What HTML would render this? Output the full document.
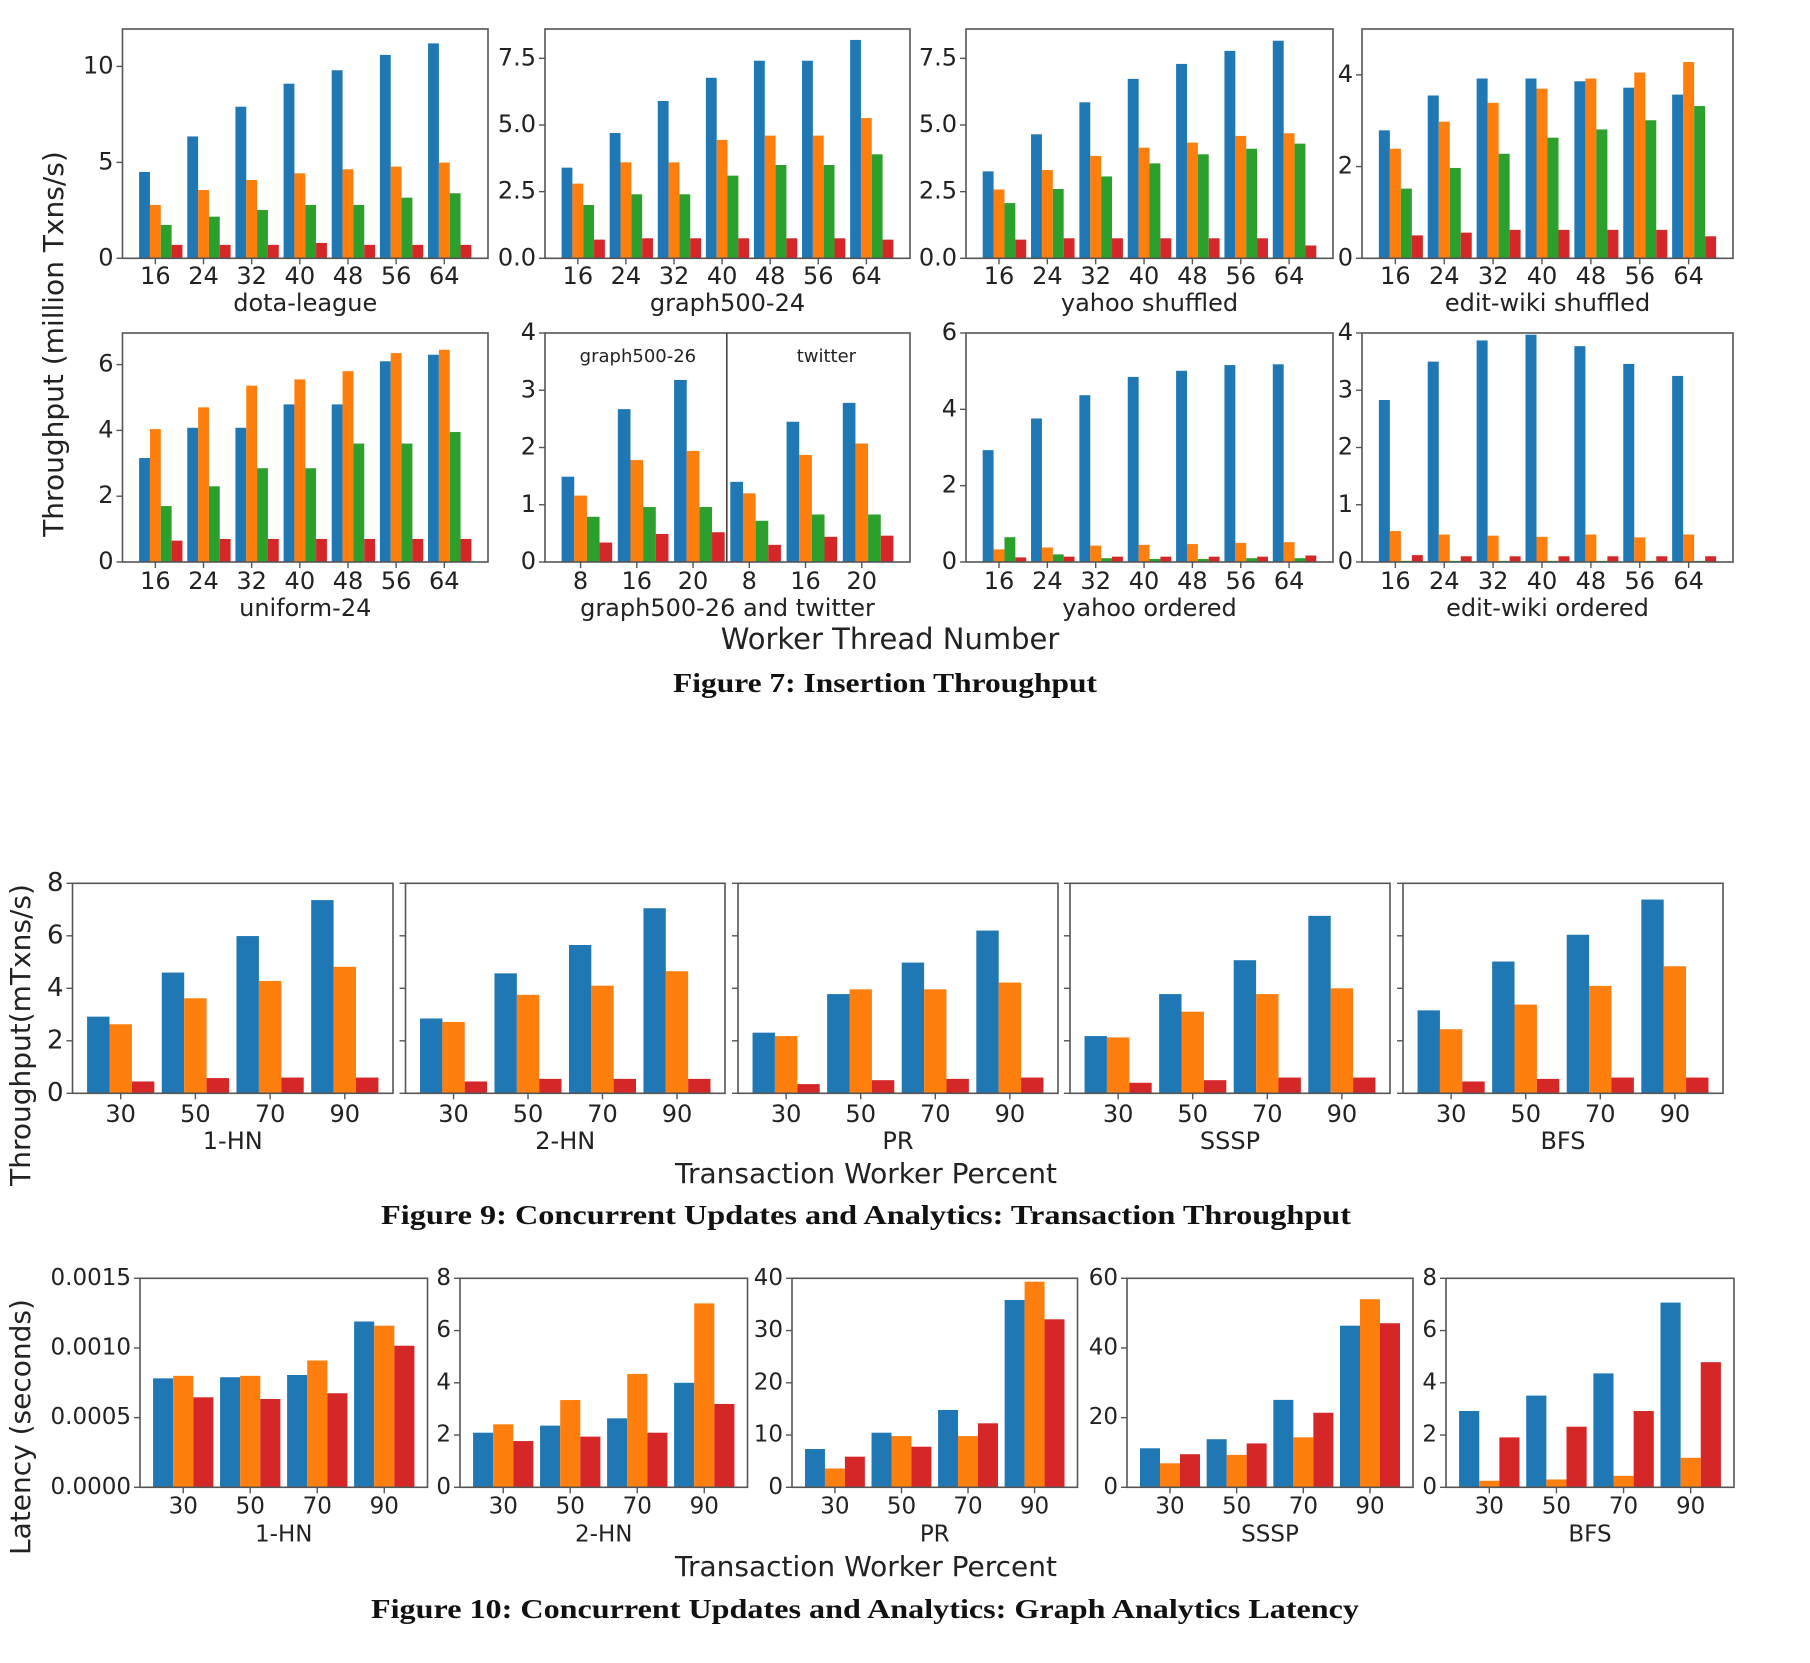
<!DOCTYPE html>
<html><head><meta charset="utf-8"><title>Figures</title>
<style>
html,body{margin:0;padding:0;background:#fff;}
svg{display:block;}
text{font-family:"DejaVu Sans","Liberation Sans",sans-serif;fill:#222;}
.cap{font-family:"Liberation Serif",serif;font-weight:bold;fill:#111;}
</style></head>
<body>
<svg id="chart" xmlns="http://www.w3.org/2000/svg" width="1810" height="1663" viewBox="0 0 1810 1663">
<rect x="0" y="0" width="1810" height="1663" fill="#fff"/>
<text x="55" y="344" font-size="28" text-anchor="middle" dominant-baseline="middle" transform="rotate(-90 55 344)">Throughput (million Txns/s)</text>
<text x="890" y="641" font-size="29" text-anchor="middle" dominant-baseline="middle">Worker Thread Number</text>
<text class="cap" x="885" y="686" font-size="27" text-anchor="middle" dominant-baseline="middle" textLength="424" lengthAdjust="spacingAndGlyphs">Figure 7: Insertion Throughput</text>
<text x="22" y="1035" font-size="28" text-anchor="middle" dominant-baseline="middle" transform="rotate(-90 22 1035)">Throughput(mTxns/s)</text>
<text x="866" y="1175" font-size="28" text-anchor="middle" dominant-baseline="middle">Transaction Worker Percent</text>
<text class="cap" x="866" y="1218" font-size="27" text-anchor="middle" dominant-baseline="middle" textLength="970" lengthAdjust="spacingAndGlyphs">Figure 9: Concurrent Updates and Analytics: Transaction Throughput</text>
<text x="22" y="1427" font-size="28" text-anchor="middle" dominant-baseline="middle" transform="rotate(-90 22 1427)">Latency (seconds)</text>
<text x="866" y="1568" font-size="28" text-anchor="middle" dominant-baseline="middle">Transaction Worker Percent</text>
<text class="cap" x="865" y="1612" font-size="27" text-anchor="middle" dominant-baseline="middle" textLength="988" lengthAdjust="spacingAndGlyphs">Figure 10: Concurrent Updates and Analytics: Graph Analytics Latency</text>
</svg>
<script>
// ---------- data ----------
const threadCats = ['16','24','32','40','48','56','64'];
const g26Cats = ['8','16','20','8','16','20'];
const pctCats = ['30','50','70','90'];

const dotaBlue = [4.5,6.35,7.9,9.1,9.8,10.6,11.2];
const dotaOrange = [2.78,3.56,4.08,4.43,4.64,4.78,4.99];
const dotaGreen = [1.74,2.17,2.52,2.78,2.78,3.16,3.39];
const dotaRed = [0.7,0.7,0.7,0.8,0.7,0.7,0.7];

const g24Blue = [3.4,4.7,5.9,6.77,7.41,7.41,8.19];
const g24Orange = [2.8,3.6,3.6,4.44,4.6,4.6,5.26];
const g24Green = [2.0,2.4,2.4,3.1,3.5,3.5,3.9];
const g24Red = [0.7,0.75,0.75,0.75,0.75,0.75,0.7];

const yshBlue = [3.26,4.65,5.85,6.73,7.29,7.78,8.16];
const yshOrange = [2.58,3.31,3.84,4.15,4.34,4.59,4.69];
const yshGreen = [2.07,2.6,3.07,3.56,3.9,4.11,4.3];
const yshRed = [0.7,0.75,0.75,0.75,0.75,0.75,0.48];

const ewsBlue = [2.79,3.55,3.92,3.92,3.86,3.72,3.57];
const ewsOrange = [2.39,2.98,3.39,3.7,3.92,4.05,4.28];
const ewsGreen = [1.52,1.97,2.28,2.63,2.81,3.01,3.32];
const ewsRed = [0.5,0.56,0.62,0.62,0.62,0.62,0.48];

const uniBlue = [3.16,4.08,4.08,4.79,4.79,6.1,6.3];
const uniOrange = [4.04,4.7,5.36,5.55,5.8,6.35,6.45];
const uniGreen = [1.7,2.3,2.85,2.85,3.6,3.6,3.95];
const uniRed = [0.65,0.7,0.7,0.7,0.7,0.7,0.7];

const g26Blue = [1.49,2.67,3.18,1.4,2.45,2.78];
const g26Orange = [1.16,1.78,1.94,1.2,1.87,2.07];
const g26Green = [0.79,0.96,0.96,0.72,0.83,0.83];
const g26Red = [0.34,0.49,0.52,0.3,0.44,0.46];

const yorBlue = [2.93,3.76,4.37,4.85,5.01,5.16,5.18];
const yorOrange = [0.33,0.38,0.43,0.45,0.47,0.5,0.52];
const yorGreen = [0.65,0.2,0.1,0.08,0.08,0.1,0.1];
const yorRed = [0.12,0.14,0.14,0.14,0.14,0.14,0.17];

const ewoBlue = [2.83,3.5,3.87,3.97,3.77,3.46,3.25];
const ewoOrange = [0.54,0.48,0.46,0.44,0.48,0.43,0.48];
const ewoGreen = [0.02,0.02,0.02,0.02,0.02,0.02,0.02];
const ewoRed = [0.12,0.1,0.1,0.1,0.1,0.1,0.1];

const tp1hnBlue = [2.92,4.6,5.99,7.36];
const tp1hnOrange = [2.63,3.62,4.28,4.82];
const tp1hnRed = [0.45,0.58,0.6,0.6];
const tp2hnBlue = [2.85,4.57,5.65,7.05];
const tp2hnOrange = [2.72,3.75,4.1,4.65];
const tp2hnRed = [0.45,0.55,0.55,0.55];
const tpPrBlue = [2.31,3.78,4.98,6.2];
const tpPrOrange = [2.18,3.96,3.96,4.22];
const tpPrRed = [0.35,0.5,0.55,0.6];
const tpSsspBlue = [2.18,3.78,5.07,6.76];
const tpSsspOrange = [2.13,3.11,3.78,4.0];
const tpSsspRed = [0.4,0.5,0.6,0.6];
const tpBfsBlue = [3.16,5.02,6.04,7.38];
const tpBfsOrange = [2.44,3.38,4.09,4.84];
const tpBfsRed = [0.45,0.55,0.6,0.6];

const lat1hnBlue = [0.000782,0.00079,0.000806,0.00119];
const lat1hnOrange = [0.0008,0.0008,0.00091,0.00116];
const lat1hnRed = [0.000646,0.000634,0.000675,0.001016];
const lat2hnBlue = [2.09,2.36,2.64,4.0];
const lat2hnOrange = [2.41,3.34,4.34,7.04];
const lat2hnRed = [1.77,1.94,2.09,3.19];
const latPrBlue = [7.33,10.45,14.8,35.85];
const latPrOrange = [3.6,9.8,9.8,39.35];
const latPrRed = [5.86,7.77,12.25,32.15];
const latSsspBlue = [11.2,13.8,25.1,46.4];
const latSsspOrange = [6.9,9.3,14.35,54.0];
const latSsspRed = [9.5,12.6,21.4,47.1];
const latBfsBlue = [2.92,3.51,4.36,7.07];
const latBfsOrange = [0.25,0.3,0.44,1.13];
const latBfsRed = [1.91,2.32,2.92,4.79];

const ticks0to10 = [0,5,10];
const ticksHalf = [0,2.5,5,7.5];
const ticksHalfLabels = ['0.0','2.5','5.0','7.5'];
const ticks0to4by2 = [0,2,4];
const ticks0to6by2 = [0,2,4,6];
const ticks0to4 = [0,1,2,3,4];
const ticks0to8 = [0,2,4,6,8];
const ticksLat1 = [0,0.0005,0.001,0.0015];
const ticksLat1Labels = ['0.0000','0.0005','0.0010','0.0015'];
const ticks0to40 = [0,10,20,30,40];
const ticks0to60 = [0,20,40,60];

// ---------- drawing ----------
const svg = document.getElementById('chart');
const NS = 'http://www.w3.org/2000/svg';
const C4 = ['#1f77b4','#ff7f0e','#2ca02c','#d62728'];
const C3 = ['#1f77b4','#ff7f0e','#d62728'];
const SER4 = ['blue','orange','green','red'];
const SER3 = ['blue','orange','red'];

function mk(tag, attrs, parent) {
  const e = document.createElementNS(NS, tag);
  for (const k in attrs) e.setAttribute(k, attrs[k]);
  (parent || svg).appendChild(e);
  return e;
}

function drawPanel(p) {
  const g = mk('g', {});
  
  
  const n = p.cats.length, k = p.series.length, w = p.w;
  const dmin = -1.5 * w, dmax = (n - 1) + (k - 2) * w + 0.5 * w;
  const m = 0.05 * (dmax - dmin);
  const lo = dmin - m, hi = dmax + m;
  const xs = v => p.x0 + (v - lo) / (hi - lo) * (p.x1 - p.x0);
  const ys = v => p.yB - (v / p.ymax) * (p.yB - p.yT);
  const bw = xs(w) - xs(0);
  for (let i = 0; i < k; i++) {
    for (let j = 0; j < n; j++) {
      const v = p.series[i][j];
      const cx = j + (i - 1) * w;
      const r = mk('rect', {x: xs(cx) - bw / 2, y: ys(v), width: bw, height: ys(0) - ys(v), fill: p.colors[i]}, g);
      
      
    }
  }
  const fr = mk('rect', {x: p.x0, y: p.yT, width: p.x1 - p.x0, height: p.yB - p.yT, fill: 'none', stroke: '#555', 'stroke-width': 1.6}, g);
  
  
  for (let j = 0; j < n; j++) {
    mk('line', {x1: xs(j), x2: xs(j), y1: p.yB, y2: p.yB + 6, stroke: '#555', 'stroke-width': 1.4}, g);
    const t = mk('text', {x: xs(j), y: p.tickY, 'font-size': p.fs, 'text-anchor': 'middle', 'dominant-baseline': 'middle', 'font-family': p.ff}, g);
    t.textContent = p.cats[j];
    
    
  }
  for (let i = 0; i < p.yTicks.length; i++) {
    const yv = ys(p.yTicks[i]);
    mk('line', {x1: p.x0 - 6, x2: p.x0, y1: yv, y2: yv, stroke: '#555', 'stroke-width': 1.4}, g);
    if (p.showY) {
      const t = mk('text', {x: p.x0 - 9, y: yv, 'font-size': p.yfs || p.fs, 'text-anchor': 'end', 'dominant-baseline': 'middle', 'font-family': p.ff}, g);
      t.textContent = p.yLabels ? p.yLabels[i] : String(p.yTicks[i]);
      
      
    }
  }
  const xl = mk('text', {x: (p.x0 + p.x1) / 2, y: p.xlabelY, 'font-size': p.fs, 'text-anchor': 'middle', 'dominant-baseline': 'middle', 'font-family': p.ff}, g);
  xl.textContent = p.xlabel;
  
  
  if (p.divider !== undefined) {
    const d = mk('line', {x1: xs(p.divider), x2: xs(p.divider), y1: p.yT, y2: p.yB, stroke: '#444', 'stroke-width': 1.6}, g);
    
    
    const a = mk('text', {x: (p.x0 + xs(p.divider)) / 2 + 2, y: p.yT + 24, 'font-size': 18, 'text-anchor': 'middle', 'dominant-baseline': 'middle'}, g);
    a.textContent = 'graph500-26';
    
    
    const b = mk('text', {x: (p.x1 + xs(p.divider)) / 2 + 8, y: p.yT + 24, 'font-size': 18, 'text-anchor': 'middle', 'dominant-baseline': 'middle'}, g);
    b.textContent = 'twitter';
    
    
  }
}

const FF = '"DejaVu Sans","Liberation Sans",sans-serif';
const FFC = '"DejaVu Sans Condensed","DejaVu Sans","Liberation Sans Narrow",sans-serif';
const r1 = {yT: 29, yB: 258.3, tickY: 277, xlabelY: 304};
const r2 = {yT: 333, yB: 562, tickY: 582, xlabelY: 609};
const f7 = {w: 0.225, colors: C4, serNames: SER4, showY: true, fs: 24, ff: FF};

drawPanel(Object.assign({}, f7, r1, {name: 'dota-league', x0: 122.5, x1: 488, ymax: 11.95, yTicks: ticks0to10, cats: threadCats, series: [dotaBlue, dotaOrange, dotaGreen, dotaRed], xlabel: 'dota-league'}));
drawPanel(Object.assign({}, f7, r1, {name: 'graph500-24', x0: 545, x1: 910, ymax: 8.6, yTicks: ticksHalf, yLabels: ticksHalfLabels, cats: threadCats, series: [g24Blue, g24Orange, g24Green, g24Red], xlabel: 'graph500-24'}));
drawPanel(Object.assign({}, f7, r1, {name: 'yahoo-shuffled', x0: 966, x1: 1333, ymax: 8.6, yTicks: ticksHalf, yLabels: ticksHalfLabels, cats: threadCats, series: [yshBlue, yshOrange, yshGreen, yshRed], xlabel: 'yahoo shuffled'}));
drawPanel(Object.assign({}, f7, r1, {name: 'edit-wiki-shuffled', x0: 1362, x1: 1733, ymax: 5.0, yTicks: ticks0to4by2, cats: threadCats, series: [ewsBlue, ewsOrange, ewsGreen, ewsRed], xlabel: 'edit-wiki shuffled'}));
drawPanel(Object.assign({}, f7, r2, {name: 'uniform-24', x0: 122.5, x1: 488, ymax: 6.96, yTicks: ticks0to6by2, cats: threadCats, series: [uniBlue, uniOrange, uniGreen, uniRed], xlabel: 'uniform-24'}));
drawPanel(Object.assign({}, f7, r2, {name: 'graph500-26-twitter', x0: 545, x1: 910, ymax: 4, yTicks: ticks0to4, cats: g26Cats, series: [g26Blue, g26Orange, g26Green, g26Red], xlabel: 'graph500-26 and twitter', divider: 2.6}));
drawPanel(Object.assign({}, f7, r2, {name: 'yahoo-ordered', x0: 966, x1: 1333, ymax: 6, yTicks: ticks0to6by2, cats: threadCats, series: [yorBlue, yorOrange, yorGreen, yorRed], xlabel: 'yahoo ordered'}));
drawPanel(Object.assign({}, f7, r2, {name: 'edit-wiki-ordered', x0: 1362, x1: 1733, ymax: 4, yTicks: ticks0to4, cats: threadCats, series: [ewoBlue, ewoOrange, ewoGreen, ewoRed], xlabel: 'edit-wiki ordered'}));

const r9 = {yT: 883.3, yB: 1093.3, tickY: 1115, xlabelY: 1142, w: 0.3, colors: C3, serNames: SER3, fs: 24, yfs: 26, ff: FF, ymax: 8, yTicks: ticks0to8, cats: pctCats};
drawPanel(Object.assign({}, r9, {name: 'tp-1-hn', x0: 72.5, x1: 393, showY: true, series: [tp1hnBlue, tp1hnOrange, tp1hnRed], xlabel: '1-HN'}));
drawPanel(Object.assign({}, r9, {name: 'tp-2-hn', x0: 405.5, x1: 725, showY: false, series: [tp2hnBlue, tp2hnOrange, tp2hnRed], xlabel: '2-HN'}));
drawPanel(Object.assign({}, r9, {name: 'tp-pr', x0: 738, x1: 1058, showY: false, series: [tpPrBlue, tpPrOrange, tpPrRed], xlabel: 'PR'}));
drawPanel(Object.assign({}, r9, {name: 'tp-sssp', x0: 1070, x1: 1390, showY: false, series: [tpSsspBlue, tpSsspOrange, tpSsspRed], xlabel: 'SSSP'}));
drawPanel(Object.assign({}, r9, {name: 'tp-bfs', x0: 1403, x1: 1723, showY: false, series: [tpBfsBlue, tpBfsOrange, tpBfsRed], xlabel: 'BFS'}));

const r10 = {yT: 1278.3, yB: 1487.3, tickY: 1507, xlabelY: 1535, w: 0.3, colors: C3, serNames: SER3, fs: 23, ff: FFC, showY: true, cats: pctCats};
drawPanel(Object.assign({}, r10, {name: 'lat-1-hn', x0: 140, x1: 427.5, ymax: 0.0015, yTicks: ticksLat1, yLabels: ticksLat1Labels, series: [lat1hnBlue, lat1hnOrange, lat1hnRed], xlabel: '1-HN'}));
drawPanel(Object.assign({}, r10, {name: 'lat-2-hn', x0: 460, x1: 747.5, ymax: 8, yTicks: ticks0to8, series: [lat2hnBlue, lat2hnOrange, lat2hnRed], xlabel: '2-HN'}));
drawPanel(Object.assign({}, r10, {name: 'lat-pr', x0: 792, x1: 1077.5, ymax: 40, yTicks: ticks0to40, series: [latPrBlue, latPrOrange, latPrRed], xlabel: 'PR'}));
drawPanel(Object.assign({}, r10, {name: 'lat-sssp', x0: 1127, x1: 1413, ymax: 60, yTicks: ticks0to60, series: [latSsspBlue, latSsspOrange, latSsspRed], xlabel: 'SSSP'}));
drawPanel(Object.assign({}, r10, {name: 'lat-bfs', x0: 1446, x1: 1734, ymax: 8, yTicks: ticks0to8, series: [latBfsBlue, latBfsOrange, latBfsRed], xlabel: 'BFS'}));
</script>
</body></html>
